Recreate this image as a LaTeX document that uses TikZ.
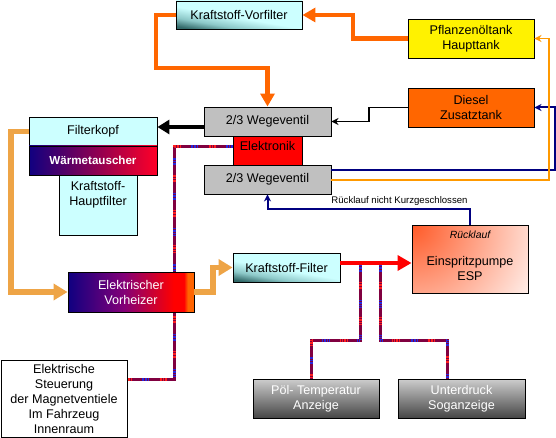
\documentclass[tikz,border=0pt]{standalone}
\usepackage{fontspec}
\setmainfont{Liberation Sans}
\usetikzlibrary{arrows.meta}
\definecolor{lcyan}{RGB}{204,255,255}
\definecolor{vgray}{RGB}{192,192,192}
\definecolor{dorange}{RGB}{255,102,0}
\definecolor{lorange}{RGB}{255,153,0}
\definecolor{hatchor}{RGB}{238,164,70}
\definecolor{navyl}{RGB}{0,0,128}
\definecolor{wmaroon}{RGB}{128,0,64}
\definecolor{wblue}{RGB}{40,40,220}
\definecolor{wred}{RGB}{255,30,30}
\definecolor{vnavy}{RGB}{16,0,128}
\definecolor{vpurple}{RGB}{130,0,120}
\definecolor{vred}{RGB}{255,0,0}
\definecolor{vorange}{RGB}{255,100,0}
\definecolor{tdark}{RGB}{50,105,105}
\definecolor{tmid}{RGB}{140,200,200}
\definecolor{tlight}{RGB}{204,255,255}
\definecolor{glight}{RGB}{205,205,205}
\definecolor{gdark}{RGB}{70,70,70}
\definecolor{espred}{RGB}{255,90,40}
\pgfdeclarehorizontalshading{vorhshade}{100bp}{color(0bp)=(vnavy); color(25bp)=(vnavy); color(47bp)=(vpurple); color(67bp)=(vred); color(71bp)=(vred); color(72.5bp)=(vorange); color(100bp)=(vorange)}
\pgfdeclareverticalshading{tealshade}{100bp}{color(0bp)=(tdark); color(24bp)=(tdark); color(34bp)=(tmid); color(47bp)=(tlight); color(100bp)=(tlight)}
\tikzset{
  box/.style={draw, line width=0.9pt, inner sep=0pt, align=center, font=\fontsize{12.6}{15}\selectfont},
  txt/.style={inner sep=0pt, align=center, font=\fontsize{12.6}{15}\selectfont},
  tealbox/.style={box, shading=tealshade, shading angle=-10},
  graybox/.style={box, top color=glight, bottom color=gdark, text=white},
  thickor/.style={draw=dorange, line width=4.5pt, -{Triangle[length=13pt,width=14pt]}},
  thickbk/.style={draw=black, line width=4.5pt, -{Triangle[length=12pt,width=14pt]}},
  thinbk/.style={draw=black, line width=1.8pt, -{Stealth[length=7pt,width=7pt]}},
  thinnavy/.style={draw=navyl, line width=2pt, -{Stealth[length=7pt,width=7pt]}},
  thinor/.style={draw=lorange, line width=1.8pt, -{Stealth[length=7pt,width=7pt]}},
  hatch/.style={draw=hatchor, line width=5.5pt, -{Triangle[length=14pt,width=16pt]}},
  redpipe/.style={draw=red, line width=4.5pt, -{Triangle[length=14pt,width=15pt]}},
  wire/.style={draw=wmaroon, line width=3pt,
    postaction={draw=wblue, line width=3pt, dash pattern=on 0.8pt off 0.8pt on 0.8pt off 0.8pt on 0.8pt off 0.8pt on 0.8pt off 0.8pt on 0.8pt off 28pt},
    postaction={draw=wred, line width=3pt, dash pattern=on 0.8pt off 0.8pt on 0.8pt off 0.8pt on 0.8pt off 0.8pt on 0.8pt off 0.8pt on 0.8pt off 28pt, dash phase=-17pt}}
}
\begin{document}
\begin{tikzpicture}[x=1pt,y=-1pt]
\useasboundingbox (0,0) rectangle (556,438);
\fill[white] (0,0) rectangle (556,438);

% wires (beneath boxes)
\draw[wire] (233,146.5) -| (174,379) -- (127,379);
\draw[wire] (360,265) -- (360,340) -- (311,340) -- (311,379);
\draw[wire] (380,265) -- (380,340) -- (447,340) -- (447,379);

% boxes
\node[tealbox, minimum width=126pt, minimum height=28pt] (vorf) at (239,15) {Kraftstoff-Vorfilter};
\node[box, fill=yellow, minimum width=126pt, minimum height=39pt] (pfl) at (471,38.5) {Pflanzenöltank\\Haupttank};
\node[box, fill=dorange, minimum width=126pt, minimum height=39pt] (dies) at (471,107.5) {Diesel\\Zusatztank};
\node[box, fill=vgray, minimum width=127pt, minimum height=29pt] (weg1) at (267.5,121.5) {2/3 Wegeventil};
\node[box, fill=red, minimum width=69pt, minimum height=29pt, text depth=9pt] (elek) at (267.5,150.5) {Elektronik};
\node[box, fill=vgray, minimum width=127pt, minimum height=29pt] (weg2) at (267.5,179.5) {2/3 Wegeventil};
\node[box, fill=lcyan, minimum width=128pt, minimum height=29pt] (fkopf) at (93,131.5) {Filterkopf};
\node[box, left color=vnavy, middle color=vpurple, right color={rgb,255:red,255;green,0;blue,40}, minimum width=128pt, minimum height=29pt, text=white, font=\bfseries\fontsize{11.6}{14}\selectfont] (waerm) at (93,160.5) {Wärmetauscher};
\node[box, fill=lcyan, minimum width=78pt, minimum height=60pt] (hfilt) at (98,205) {};
\node[txt] (hfiltt) at (98,195) {Kraftstoff-\\Hauptfilter};
\node[box, shading=vorhshade, minimum width=126pt, minimum height=40pt, text=white] (vorh) at (131,292) {Elektrischer\\Vorheizer};
\node[tealbox, minimum width=107pt, minimum height=29pt] (kfilt) at (286.5,267.5) {Kraftstoff-Filter};
\node[box, minimum width=116pt, minimum height=68pt, fill=white,
  path picture={\shade[inner color=espred, outer color=white] (path picture bounding box.north west) circle (150pt);}] (esp) at (470,259) {};
\node[txt] (espt) at (470,268.5) {Einspritzpumpe\\ESP};
\node[txt, font=\itshape\fontsize{10.4}{12}\selectfont] (esprl) at (470,235) {Rücklauf};
\node[box, fill=white, minimum width=126pt, minimum height=77pt] (steu) at (64,398.5) {Elektrische\\Steuerung\\der Magnetventiele\\Im Fahrzeug\\Innenraum};
\node[graybox, minimum width=126pt, minimum height=39pt] (poel) at (316,398.5) {Pöl- Temperatur\\Anzeige};
\node[graybox, minimum width=127pt, minimum height=39pt] (unter) at (461.5,398.5) {Unterdruck\\Soganzeige};

% connectors
\draw[thickor] (pfl.west) -- (353,38.5) |- (vorf.east);
\draw[thickor] (vorf.west) -| (156,68) -| (weg1.north);
\draw[thinbk] (dies.west) -- (369,107.5) |- (weg1.east);
\draw[thickbk] (weg1.west |- 0,127) -- (fkopf.east |- 0,127);
\draw[thinnavy] (weg2.east |- 0,170) -- (555,170) |- (dies.east);
\draw[thinor] (weg2.east |- 0,180) -- (549,180) |- (pfl.east);
\draw[thinnavy] (esp.north) -- (470,209) -| (weg2.south);
\node[txt, font=\fontsize{9.6}{11}\selectfont] (rlabel) at (399.5,201) {Rücklauf nicht Kurzgeschlossen};
\draw[hatch] (fkopf.west) -- (11,131.5) |- (vorh.west);
\draw[hatch] (vorh.east) -- (213,292) |- (kfilt.west);
\draw[redpipe] (kfilt.east |- 0,263) -- (esp.west |- 0,263);
\end{tikzpicture}
\end{document}
